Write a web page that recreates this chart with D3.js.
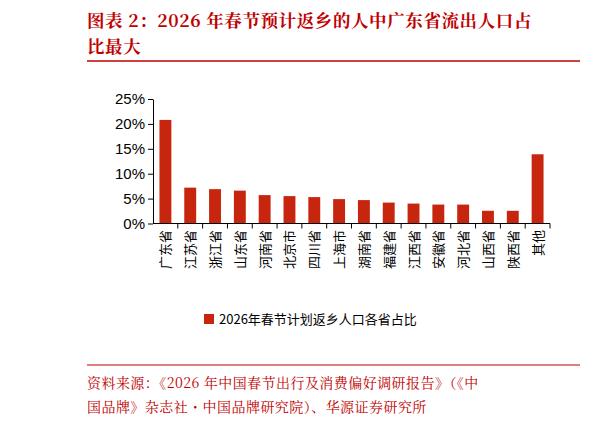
<!DOCTYPE html><html><head><meta charset="utf-8"><script src="https://cdn.jsdelivr.net/npm/d3@7"></script>
<style>body{margin:0;background:#fff}</style></head><body><svg id="c" width="614" height="425"></svg>
<script>
const categories=["广东省","江苏省","浙江省","山东省","河南省","北京市","四川省","上海市","湖南省","福建省","江西省","安徽省","河北省","山西省","陕西省","其他"];
const values=[20.8,7.2,6.9,6.6,5.7,5.5,5.3,4.9,4.7,4.2,4.0,3.8,3.8,2.55,2.55,13.9];
const yTicks=[0,5,10,15,20,25];
const seriesName="2026年春节计划返乡人口各省占比";
const svg=d3.select("#c");
const red="#c00000", serif="'Noto Serif CJK SC','Noto Sans CJK SC',serif", sans="'Noto Sans CJK SC','Liberation Sans',sans-serif";
svg.append("text").attr("x",87).attr("y",27).attr("fill",red).attr("font-family",serif).attr("font-weight","bold").attr("font-size",17.5).attr("letter-spacing",0.6).text("图表 2：2026 年春节预计返乡的人中广东省流出人口占");
svg.append("text").attr("x",87).attr("y",53).attr("fill",red).attr("font-family",serif).attr("font-weight","bold").attr("font-size",17.5).attr("letter-spacing",0.6).text("比最大");
svg.append("line").attr("x1",87).attr("x2",580).attr("y1",61).attr("y2",61).attr("stroke",red).attr("stroke-width",1.5);
svg.append("line").attr("x1",87).attr("x2",580).attr("y1",365).attr("y2",365).attr("stroke",red).attr("stroke-width",1);
const x=d3.scaleBand().domain(categories).range([153,550]).paddingInner(0.52).paddingOuter(0.26);
const y=d3.scaleLinear().domain([0,25]).range([223.5,99]);
const g=svg.append("g");
g.selectAll("rect").data(values).join("rect").attr("x",(d,i)=>x(categories[i])).attr("width",x.bandwidth()).attr("y",d=>y(d)).attr("height",d=>y(0)-y(d)).attr("fill","#c8250f");
const ya=svg.append("g").attr("transform","translate(153,0)").call(d3.axisLeft(y).tickValues(yTicks).tickFormat(d=>d+"%").tickSize(5).tickSizeOuter(0));
ya.selectAll("text").attr("font-family","'Liberation Sans',Arial").attr("font-size",15).attr("fill","#000");
ya.select(".domain").attr("stroke","#000");
const step=(550-153)/categories.length;
const xa=svg.append("g").attr("transform","translate(0,223.5)");
xa.append("line").attr("x1",153).attr("x2",550).attr("stroke","#000");
categories.forEach((c,i)=>{xa.append("line").attr("x1",153+step*(i+1)).attr("x2",153+step*(i+1)).attr("y1",0).attr("y2",5).attr("stroke","#000");});
categories.forEach(c=>{
 const cx=x(c)+x.bandwidth()/2;
 svg.append("text").attr("transform",`translate(${cx+5},230) rotate(-90)`).attr("text-anchor","end").attr("font-family",sans).attr("font-size",13).attr("fill","#000").text(c);
});
svg.append("rect").attr("x",204).attr("y",314).attr("width",10).attr("height",10).attr("fill","#c8250f");
svg.append("text").attr("x",219).attr("y",324).attr("font-family",sans).attr("font-size",13).attr("fill","#000").text(seriesName);
svg.append("text").attr("x",87).attr("y",388).attr("fill",red).attr("font-family",serif).attr("font-size",14).attr("letter-spacing",0.45).text("资料来源：《2026 年中国春节出行及消费偏好调研报告》（《中");
svg.append("text").attr("x",87).attr("y",412).attr("fill",red).attr("font-family",serif).attr("font-size",14).attr("letter-spacing",0.45).text("国品牌》杂志社・中国品牌研究院）、华源证券研究所");
</script></body></html>
